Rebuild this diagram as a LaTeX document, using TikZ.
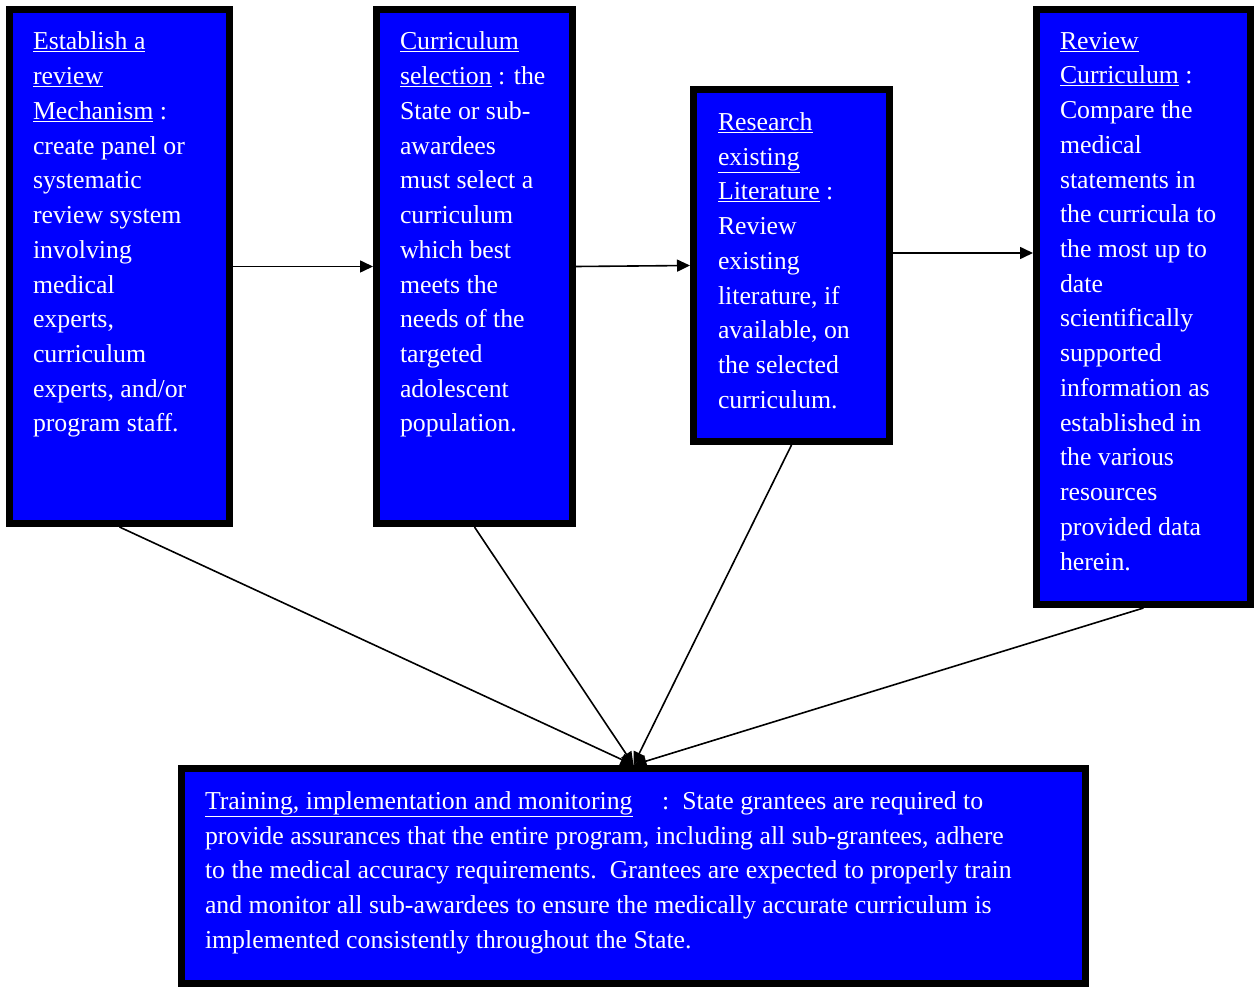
\documentclass[tikz,border=0pt]{standalone}
\usepackage{fontspec}
\setmainfont{Liberation Serif}
\usetikzlibrary{arrows.meta}

\tikzset{
  stage/.style={draw=black, line width=7pt, fill=blue, text=white, shape=rectangle,
    anchor=north west, inner xsep=23.5pt, inner ysep=22.5pt,
    font=\fontsize{25.8pt}{34.73pt}\selectfont},
  flow/.style={line width=1.6pt, -{Triangle[length=13pt, width=12pt]}}
}

\begin{document}
\begin{tikzpicture}[x=1pt, y=-1pt]
\useasboundingbox (0,0) rectangle (1254,987);

\node [stage] (mech) at (6, 6)
  {\parbox[c][469pt][t]{173pt}{\raggedright
   \underline{Establish a}\\ \underline{review}\\ \underline{Mechanism} :\\
   create panel or\\ systematic\\ review system\\ involving\\ medical\\
   experts,\\ curriculum\\ experts, and/or\\ program staff.}};
\node [stage] (select) at (373, 6)
  {\parbox[c][469pt][t]{149pt}{\raggedright
   \underline{Curriculum}\\ \underline{selection} : the\\ State or sub-\\ awardees\\
   must select a\\ curriculum\\ which best\\ meets the\\ needs of the\\
   targeted\\ adolescent\\ population.}};
\node [stage, inner xsep=24.5pt, inner ysep=23pt] (lit) at (690, 86)
  {\parbox[c][306pt][t]{147pt}{\raggedright
   \underline{Research}\\ \underline{existing}\\ \underline{Literature} :\\ Review\\
   existing\\ literature, if\\ available, on\\ the selected\\ curriculum.}};
\node [stage] (review) at (1033, 6)
  {\parbox[c][550pt][t]{167pt}{\raggedright
   \underline{Review}\\ \underline{Curriculum} :\\ Compare the\\ medical\\
   statements in\\ the curricula to\\ the most up to\\ date\\ scientifically\\
   supported\\ information as\\ established in\\ the various\\ resources\\
   provided data\\ herein.}};
\node [stage, inner ysep=23pt] (train) at (178, 765)
  {\parbox[c][169pt][t]{857pt}{\raggedright
   \underline{Training, implementation and monitoring}\hspace{0.9em} :\hspace{0.5em}State grantees are required to\\
   provide assurances that the entire program, including all sub-grantees, adhere\\
   to the medical accuracy requirements.\ \ Grantees are expected to properly train\\
   and monitor all sub-awardees to ensure the medically accurate curriculum is\\
   implemented consistently throughout the State.}};

% steps in order
\draw [flow] (mech.east) -- (select.west);
\draw [flow] (select.east) -- (lit.west);
\draw [flow] ([yshift=12.5pt]lit.east) -- ([yshift=12.5pt]lit.east -| review.west);

% all steps feed the training box
\draw [flow] (mech.south) -- (train.north);
\draw [flow] (select.south) -- (train.north);
\draw [flow] (lit.south) -- (train.north);
\draw [flow] (review.south) -- (train.north);
\end{tikzpicture}
\end{document}
